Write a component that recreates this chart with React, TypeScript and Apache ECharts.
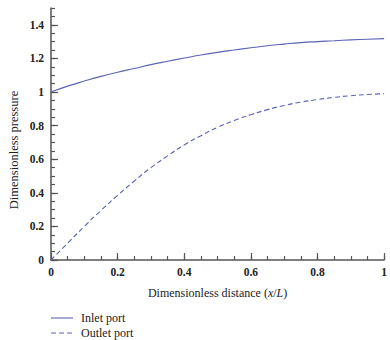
import React, { useEffect, useRef } from "react";
import * as echarts from "echarts";

// Dimensionless distance along the manifold
const distance = [0, 0.05, 0.1, 0.15, 0.2, 0.25, 0.3, 0.35, 0.4, 0.45, 0.5, 0.55, 0.6, 0.65, 0.7, 0.75, 0.8, 0.85, 0.9, 0.95, 1.0];
// Dimensionless pressure in the inlet port
const inletPressure = [1.0, 1.035, 1.065, 1.093, 1.118, 1.14, 1.163, 1.183, 1.202, 1.22, 1.236, 1.25, 1.263, 1.275, 1.285, 1.294, 1.3, 1.305, 1.31, 1.314, 1.318];
// Dimensionless pressure in the outlet port
const outletPressure = [0, 0.1, 0.2, 0.295, 0.385, 0.47, 0.55, 0.62, 0.685, 0.74, 0.79, 0.83, 0.865, 0.895, 0.92, 0.94, 0.955, 0.968, 0.978, 0.985, 0.99];

const xLabels = [0, 0.2, 0.4, 0.6, 0.8, 1];
const yLabels = [0, 0.2, 0.4, 0.6, 0.8, 1, 1.2, 1.4];
const seriesNames = ["Inlet port", "Outlet port"];

const LINE = "#5b63b5";
const AXIS = "#555";
const FONT = "Liberation Serif";
const DASH = [5, 3];

const fmt = (v: number) => (Math.abs(v) < 1e-9 ? "0" : String(Math.round(v * 100) / 100));

export default function App() {
  const ref = useRef<HTMLDivElement>(null);

  useEffect(() => {
    if (!ref.current) return;
    const chart = echarts.init(ref.current, undefined, { renderer: "svg" });

    const tickLabel = {
      fontFamily: FONT,
      fontSize: 11.5,
      fontWeight: "bold" as const,
      color: "#222",
    };

    // legend drawn as line samples with captions, stacked below the plot
    const legendItems = seriesNames.flatMap((name, i) => {
      const y = 318 + i * 15;
      return [
        {
          type: "line",
          shape: { x1: 51, y1: y, x2: 73, y2: y },
          style: { stroke: LINE, lineWidth: 1.1, lineDash: i === 0 ? null : DASH },
        },
        {
          type: "text",
          x: 81,
          y,
          style: {
            text: name,
            fontFamily: FONT,
            fontSize: 12,
            fill: "#222",
            verticalAlign: "middle",
          },
        },
      ];
    });

    chart.setOption({
      animation: false,
      backgroundColor: "#fff",
      grid: { left: 51, right: 3, top: 8, bottom: 80, containLabel: false },
      xAxis: [
        {
          type: "value",
          min: 0,
          max: 1,
          interval: 0.05,
          name: "{n|Dimensionless distance (}{i|x}{n|/}{i|L}{n|)}",
          nameLocation: "middle",
          nameGap: 27,
          nameTextStyle: {
            rich: {
              n: { fontFamily: FONT, fontSize: 12, color: "#222" },
              i: { fontFamily: FONT, fontSize: 12, color: "#222", fontStyle: "italic" },
            },
          },
          axisLine: { show: true, lineStyle: { color: AXIS, width: 1.5 } },
          axisTick: { show: true, inside: true, length: 4, lineStyle: { color: AXIS, width: 1.2 } },
          axisLabel: { ...tickLabel, margin: 6, customValues: xLabels, formatter: (v: number) => fmt(v) },
          splitLine: { show: false },
        },
        {
          type: "value",
          min: 0,
          max: 1,
          position: "bottom",
          axisLine: { show: false },
          axisTick: { show: true, inside: true, length: 7, customValues: xLabels, lineStyle: { color: AXIS, width: 1.2 } },
          axisLabel: { show: false },
          splitLine: { show: false },
        },
      ],
      yAxis: [
        {
          type: "value",
          min: 0,
          max: 1.5,
          interval: 0.05,
          axisLine: { show: true, lineStyle: { color: AXIS, width: 1.5 } },
          axisTick: { show: true, inside: true, length: 4, lineStyle: { color: AXIS, width: 1.2 } },
          axisLabel: { ...tickLabel, margin: 7, customValues: yLabels, formatter: (v: number) => fmt(v) },
          splitLine: { show: false },
        },
        {
          type: "value",
          min: 0,
          max: 1.5,
          position: "left",
          axisLine: { show: false },
          axisTick: { show: true, inside: true, length: 7, customValues: yLabels, lineStyle: { color: AXIS, width: 1.2 } },
          axisLabel: { show: false },
          splitLine: { show: false },
        },
      ],
      graphic: [
        {
          type: "text",
          x: 14,
          y: 150,
          rotation: Math.PI / 2,
          style: {
            text: "Dimensionless pressure",
            fontFamily: FONT,
            fontSize: 12.5,
            fill: "#222",
            align: "center",
            verticalAlign: "middle",
          },
        },
        ...legendItems,
      ],
      series: [
        {
          name: seriesNames[0],
          type: "line",
          smooth: true,
          symbol: "none",
          data: distance.map((x, i) => [x, inletPressure[i]]),
          lineStyle: { color: LINE, width: 1.1, type: "solid" },
          itemStyle: { color: LINE },
        },
        {
          name: seriesNames[1],
          type: "line",
          smooth: true,
          symbol: "none",
          data: distance.map((x, i) => [x, outletPressure[i]]),
          lineStyle: { color: LINE, width: 1.1, type: DASH },
          itemStyle: { color: LINE },
        },
      ],
    });

    return () => chart.dispose();
  }, []);

  return (
    <div
      ref={ref}
      style={{ position: "fixed", left: 0, top: 0, width: 390, height: 340, background: "#fff" }}
    />
  );
}
